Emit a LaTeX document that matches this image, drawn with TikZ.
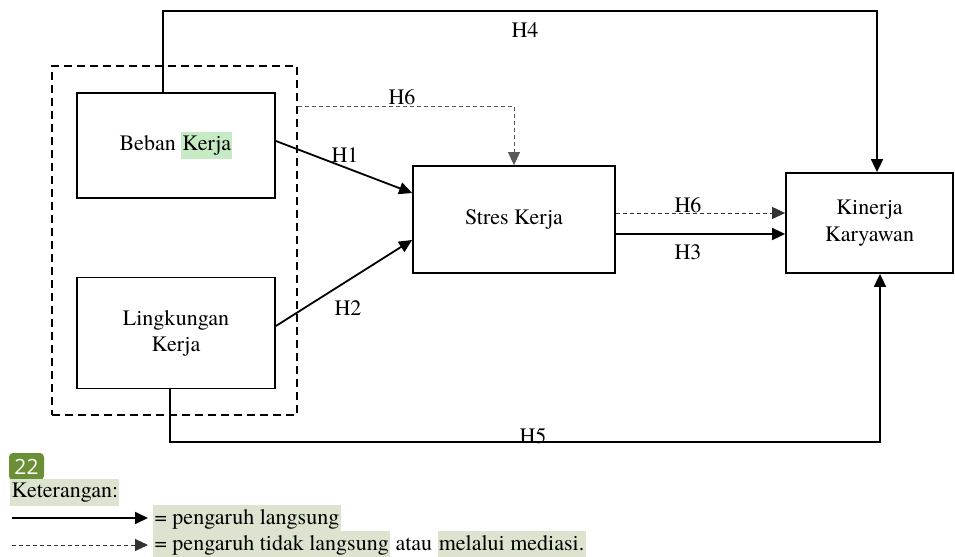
\documentclass[tikz,border=0pt]{standalone}
\usepackage{fontspec}
\setmainfont{TeX Gyre Termes}
\newfontfamily\badgefont{Open Sans}
\usetikzlibrary{arrows.meta}
\definecolor{kerjahl}{HTML}{C6EBC4}
\definecolor{legendhl}{HTML}{DCE4CF}
\definecolor{badgegreen}{HTML}{6A8F35}
\newcommand{\sorot}[2][legendhl]{{\setlength{\fboxsep}{0.6pt}\colorbox{#1}{\strut #2}}}

\begin{document}
\begin{tikzpicture}[x=0.5pt,y=-0.5pt,font=\fontsize{11}{12.5}\selectfont,
  varbox/.style={draw,line width=0.9pt,align=center},
  direct/.style={line width=0.9pt,-{Triangle[length=6.5pt,width=6pt]}},
  indirect/.style={line width=0.5pt,dash pattern=on 2pt off 1.5pt,-{Triangle[length=6.5pt,width=6pt]}},
  hlabel/.style={inner sep=0pt}]
  \useasboundingbox (0,0) rectangle (955,557);

  % variabel
  \node[draw,line width=0.7pt,dash pattern=on 4pt off 2.5pt,minimum width=122.5pt,minimum height=174.5pt] (grup) at (174.5,240.5) {};
  \node[varbox,minimum width=99pt,minimum height=52.5pt] (beban) at (176,145.5) {Beban \sorot[kerjahl]{Kerja}};
  \node[varbox,minimum width=99pt,minimum height=55.5pt,font=\fontsize{11}{13}\selectfont] (lingkungan) at (176,333) {Lingkungan\\Kerja};
  \node[varbox,minimum width=101pt,minimum height=53.5pt] (stres) at (514,219.5) {Stres Kerja};
  \node[varbox,minimum width=83.5pt,minimum height=50pt,font=\fontsize{11}{13.5}\selectfont] (kinerja) at (869.5,223) {Kinerja\\Karyawan};

  % pengaruh langsung
  \draw[direct] ([yshift=2.25pt]beban.east) -- ([yshift=13.25pt]stres.west);
  \draw[direct] ([yshift=3.5pt]lingkungan.east) -- ([yshift=-10.25pt]stres.west);
  \coordinate (s3) at ([yshift=-7.25pt]stres.east);
  \draw[direct] (s3) -- (s3 -| kinerja.west);
  \coordinate (h4l) at (163,11);
  \coordinate (h4r) at (877,11);
  \draw[direct] (beban.north -| h4l) -- (h4l) -- (h4r) -- (kinerja.north -| h4r);
  \coordinate (h5l) at (170,442);
  \coordinate (h5r) at (880,442);
  \draw[direct] (lingkungan.south -| h5l) -- (h5l) -- (h5r) -- (kinerja.south -| h5r);

  % pengaruh tidak langsung
  \coordinate (h6) at (514,106);
  \draw[indirect,black!65] (grup.east |- h6) -- (h6) -- (stres.north);
  \coordinate (s6) at ([yshift=3.25pt]stres.east);
  \draw[indirect,black!80] (s6) -- (s6 -| kinerja.west);

  \node[hlabel] (lh1) at (345,155) {H1};
  \node[hlabel] (lh2) at (348,308) {H2};
  \node[hlabel] (lh3) at (688,252) {H3};
  \node[hlabel] (lh4) at (525,30) {H4};
  \node[hlabel] (lh5) at (533,436) {H5};
  \node[hlabel] (lh6a) at (402,97) {H6};
  \node[hlabel] (lh6b) at (688,205) {H6};

  % keterangan
  \node[fill=badgegreen,text=white,rounded corners=2pt,minimum width=17.5pt,minimum height=13.5pt,inner sep=0pt,font=\badgefont\fontsize{10.5}{12}\selectfont] (badge) at (26.5,466.5) {22};
  \node[anchor=west,inner sep=0pt] (ket) at (10,492.5) {\sorot{Keterangan:}};
  \node[anchor=west,inner sep=0pt] (lg1) at (153,519) {\sorot{= pengaruh langsung}};
  \node[anchor=west,inner sep=0pt] (lg2) at (153,545) {\sorot{= pengaruh tidak langsung} atau \sorot{melalui mediasi.}};
  \coordinate (a1) at (12,518);
  \coordinate (a2) at (12,545);
  \draw[direct,shorten >=2.5pt] (a1) -- (lg1.west |- a1);
  \draw[indirect,black!80,shorten >=2.5pt] (a2) -- (lg2.west |- a2);
\end{tikzpicture}
\end{document}
